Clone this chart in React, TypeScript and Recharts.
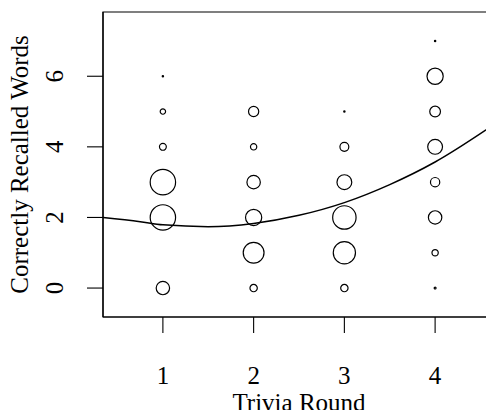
import React from 'react';
import { ComposedChart, Scatter, Line, XAxis, YAxis, ZAxis, ReferenceArea, Label } from 'recharts';

// Categories / axes
const rounds = [1, 2, 3, 4];
const wordLevels = [0, 1, 2, 3, 4, 5, 6, 7];
const yTicks = [0, 2, 4, 6];

// Circle weights (area-proportional) per round, indexed by words recalled; null = no circle
const round1Weights = [5.0, null, 17.9, 17.9, 1.3, 0.8, 0.05, null];
const round2Weights = [1.5, 12.0, 7.3, 5.0, 1.1, 2.9, null, null];
const round3Weights = [1.5, 13.7, 15.2, 6.1, 2.2, 0.05, null, null];
const round4Weights = [0.1, 1.1, 5.0, 2.4, 6.1, 3.2, 7.3, 0.05];

// Fitted curve
const fitX = [0.34, 0.75, 1, 1.5, 2, 2.5, 3, 3.5, 4, 4.66];
const fitY = [2.0, 1.88, 1.79, 1.74, 1.83, 2.06, 2.42, 2.93, 3.57, 4.65];

const allWeights = [round1Weights, round2Weights, round3Weights, round4Weights];
const points = rounds.flatMap((r, i) =>
  allWeights[i]
    .map((w, k) => (w == null ? null : { x: r, y: wordLevels[k], z: w }))
    .filter((p) => p !== null)
);
const fitData = fitX.map((x, i) => ({ x, y: fitY[i] }));

const FONT = '"Liberation Serif", "Times New Roman", Times, serif';

const YTick = (props: any) => {
  const { x, y, payload } = props;
  const bx = x - 23.7;
  return (
    <text
      x={bx}
      y={y}
      transform={`rotate(-90, ${bx}, ${y})`}
      textAnchor="middle"
      fontSize={25}
      fontFamily={FONT}
      style={{ fontFamily: FONT }}
      fill="#000"
    >
      {payload.value}
    </text>
  );
};

export default function App() {
  return (
    <div
      style={{
        position: 'absolute',
        left: 0,
        top: 0,
        width: 486,
        height: 410,
        overflow: 'hidden',
        background: '#fff',
        fontFamily: FONT,
      }}
    >
      <ComposedChart width={520} height={410} margin={{ top: 12, right: 25, bottom: 0, left: 0 }}>
        <XAxis
          type="number"
          dataKey="x"
          domain={[0.34, 4.66]}
          ticks={rounds}
          interval={0}
          allowDataOverflow
          height={93}
          tickSize={16}
          tickMargin={33.5}
          axisLine={{ stroke: '#000', strokeWidth: 1.2 }}
          tickLine={{ stroke: '#000', strokeWidth: 1.1 }}
          tick={{ fill: '#000', fontSize: 25, fontFamily: FONT }}
        >
          <Label
            content={(p: any) => {
              const vb = p.viewBox || { x: 103, width: 392 };
              return (
                <text
                  x={vb.x + vb.width / 2}
                  y={411}
                  textAnchor="middle"
                  fontSize={25}
                  fontFamily={FONT}
                  fill="#000"
                >
                  Trivia Round
                </text>
              );
            }}
          />
        </XAxis>
        <YAxis
          type="number"
          dataKey="y"
          domain={[-0.82, 7.82]}
          ticks={yTicks}
          interval={0}
          allowDataOverflow
          width={103}
          tickSize={16}
          tickMargin={0}
          axisLine={{ stroke: '#000', strokeWidth: 1.2 }}
          tickLine={{ stroke: '#000', strokeWidth: 1.1 }}
          tick={<YTick />}
        >
          <Label
            content={(p: any) => {
              const vb = p.viewBox || { y: 12, height: 305 };
              const cy = vb.y + vb.height / 2;
              return (
                <text
                  x={28.3}
                  y={cy}
                  transform={`rotate(-90, 28.3, ${cy})`}
                  textAnchor="middle"
                  fontSize={25}
                  fontFamily={FONT}
                  fill="#000"
                >
                  Correctly Recalled Words
                </text>
              );
            }}
          />
        </YAxis>
        <ZAxis type="number" dataKey="z" domain={[0, 18]} range={[0, 508.9]} />
        <ReferenceArea
          x1={0.34}
          x2={4.66}
          y1={-0.82}
          y2={7.82}
          fill="none"
          fillOpacity={0}
          stroke="#000"
          strokeWidth={1.2}
        />
        <Scatter
          data={points}
          shape="circle"
          fill="none"
          stroke="#000"
          strokeWidth={1.2}
          isAnimationActive={false}
        />
        <Line
          data={fitData}
          dataKey="y"
          type="monotone"
          dot={false}
          activeDot={false}
          stroke="#000"
          strokeWidth={1.5}
          isAnimationActive={false}
        />
      </ComposedChart>
    </div>
  );
}
